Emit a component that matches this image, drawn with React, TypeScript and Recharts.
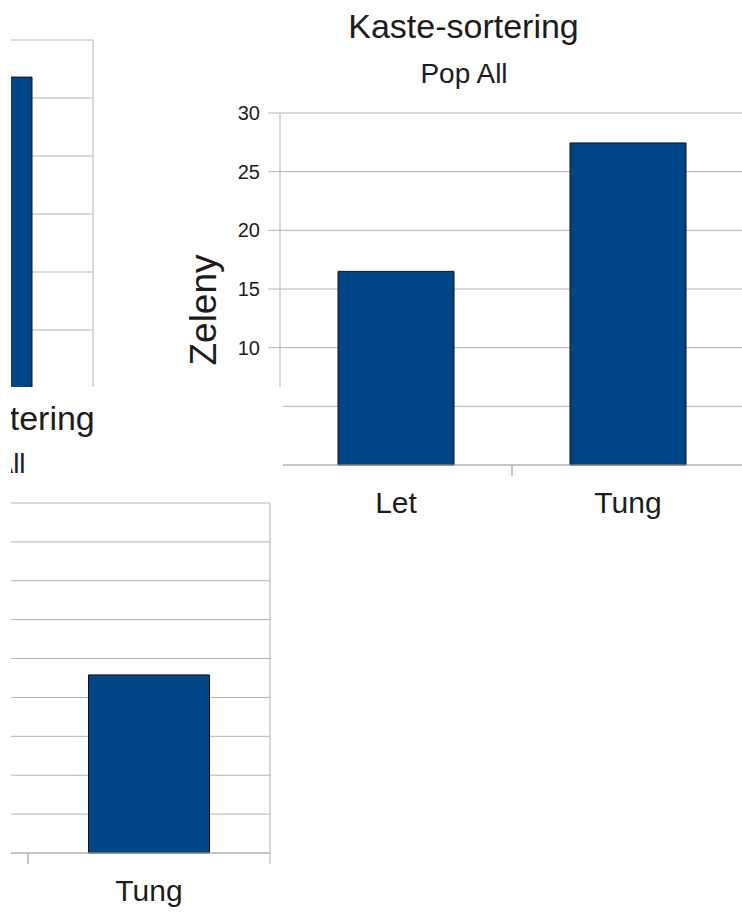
import React from 'react';
import { BarChart, Bar, XAxis, YAxis, CartesianGrid } from 'recharts';

// ---- data ----
const categories = ['Let', 'Tung'];
const mainValues = [16.5, 27.45];
const mainTicks = [0, 5, 10, 15, 20, 25, 30];
const upperLeftValues = [17.0, 26.8];
const upperLeftTicks = [0, 5, 10, 15, 20, 25, 30];
const lowerLeftValues = [14.0, 22.9];
const lowerLeftTicks = [0, 5, 10, 15, 20, 25, 30, 35, 40, 45];
const chartTitle = 'Kaste-sortering';
const chartSubtitle = 'Pop All';
const yAxisTitle = 'Zeleny';

// ---- style ----
const FONT = '"Liberation Sans", Arial, sans-serif';
const GRID = '#b3b3b3';
const TEXT = '#1c1c1c';
const BAR = '#004586';
const TICK_MARGIN = 4;

const toRows = (vals: number[]) => categories.map((c, i) => ({ name: c, value: vals[i] }));

function CatTick(props: any) {
  const { x, y, payload, width, visibleTicksCount } = props;
  let off = payload && typeof payload.offset === 'number' && payload.offset > 3 ? payload.offset : 0;
  if (!off && width && visibleTicksCount) off = width / visibleTicksCount / 2;
  const axisY = y - TICK_MARGIN;
  return (
    <g>
      <line x1={x - off} x2={x - off} y1={axisY} y2={axisY + 11} stroke={GRID} />
      <line x1={x + off} x2={x + off} y1={axisY} y2={axisY + 11} stroke={GRID} />
      <text x={x} y={axisY + 47.7} textAnchor="middle" fontSize={30} fill={TEXT} fontFamily={FONT}>
        {payload.value}
      </text>
    </g>
  );
}

// right-hand wall border of the plot area, taken from the chart's own layout offset
const rightWall = (p: any) => {
  const o = p && p.offset ? p.offset : null;
  return o ? [o.left + o.width] : [];
};

type PanelProps = {
  clip: { left: number; top: number; width: number; height: number };
  chart: { left: number; top: number; width: number; height: number };
  margin: { top: number; right: number; bottom: number; left: number };
  values: number[];
  ticks: number[];
  children?: React.ReactNode;
};

function Panel({ clip, chart, margin, values, ticks, children }: PanelProps) {
  const max = ticks[ticks.length - 1];
  return (
    <div
      style={{
        position: 'absolute',
        left: clip.left,
        top: clip.top,
        width: clip.width,
        height: clip.height,
        overflow: 'hidden',
        background: '#fff',
      }}
    >
      <div style={{ position: 'absolute', left: chart.left - clip.left, top: chart.top - clip.top }}>
        <BarChart width={chart.width} height={chart.height} data={toRows(values)} margin={margin} barCategoryGap="25%">
          <CartesianGrid stroke={GRID} vertical={true} verticalCoordinatesGenerator={rightWall} />
          <XAxis
            dataKey="name"
            type="category"
            interval={0}
            tickLine={false}
            tickSize={0}
            tickMargin={TICK_MARGIN}
            axisLine={{ stroke: GRID }}
            tick={<CatTick />}
            height={60}
          />
          <YAxis
            domain={[0, max]}
            ticks={ticks}
            interval={0}
            width={80}
            tickSize={12}
            tickMargin={8}
            axisLine={{ stroke: GRID }}
            tickLine={{ stroke: GRID }}
            tick={{ fontSize: 20, fill: TEXT, fontFamily: FONT }}
          />
          <Bar dataKey="value" fill={BAR} stroke="#111" strokeWidth={1} isAnimationActive={false} />
        </BarChart>
      </div>
      {children}
    </div>
  );
}

const textStyle = (left: number, top: number, size: number): React.CSSProperties => ({
  position: 'absolute',
  left,
  top,
  transform: 'translateX(-50%)',
  fontFamily: FONT,
  fontSize: size,
  color: TEXT,
  whiteSpace: 'nowrap',
});

export default function App() {
  return (
    <div
      style={{
        position: 'absolute',
        left: 0,
        top: 0,
        width: 742,
        height: 915,
        overflow: 'hidden',
        background: '#fff',
      }}
    >
      {/* upper-left partial chart */}
      <Panel
        clip={{ left: 11, top: 0, width: 89, height: 387 }}
        chart={{ left: -495, top: 0, width: 598, height: 450 }}
        margin={{ top: 40, right: 10, bottom: 2, left: 20 }}
        values={upperLeftValues}
        ticks={upperLeftTicks}
      />
      {/* main chart */}
      <Panel
        clip={{ left: 100, top: 0, width: 642, height: 915 }}
        chart={{ left: 100, top: 0, width: 650, height: 541 }}
        margin={{ top: 113, right: 6, bottom: 16, left: 100 }}
        values={mainValues}
        ticks={mainTicks}
      >
        <div style={textStyle(463.5 - 100, 6.5, 34)}>{chartTitle}</div>
        <div style={textStyle(464 - 100, 58, 28)}>{chartSubtitle}</div>
        <div
          style={{
            position: 'absolute',
            left: 204 - 100,
            top: 310,
            transform: 'translate(-50%, -50%) rotate(-90deg)',
            fontFamily: FONT,
            fontSize: 37,
            color: TEXT,
            whiteSpace: 'nowrap',
          }}
        >
          {yAxisTitle}
        </div>
      </Panel>
      {/* lower-left partial chart */}
      <Panel
        clip={{ left: 11, top: 387, width: 272, height: 528 }}
        chart={{ left: -314, top: 387, width: 594, height: 528 }}
        margin={{ top: 116, right: 10, bottom: 2, left: 20 }}
        values={lowerLeftValues}
        ticks={lowerLeftTicks}
      >
        <div style={textStyle(-20.5 - 11, 399 - 387, 34)}>{chartTitle}</div>
        <div style={textStyle(-18 - 11, 448 - 387, 28)}>{chartSubtitle}</div>
      </Panel>
    </div>
  );
}
